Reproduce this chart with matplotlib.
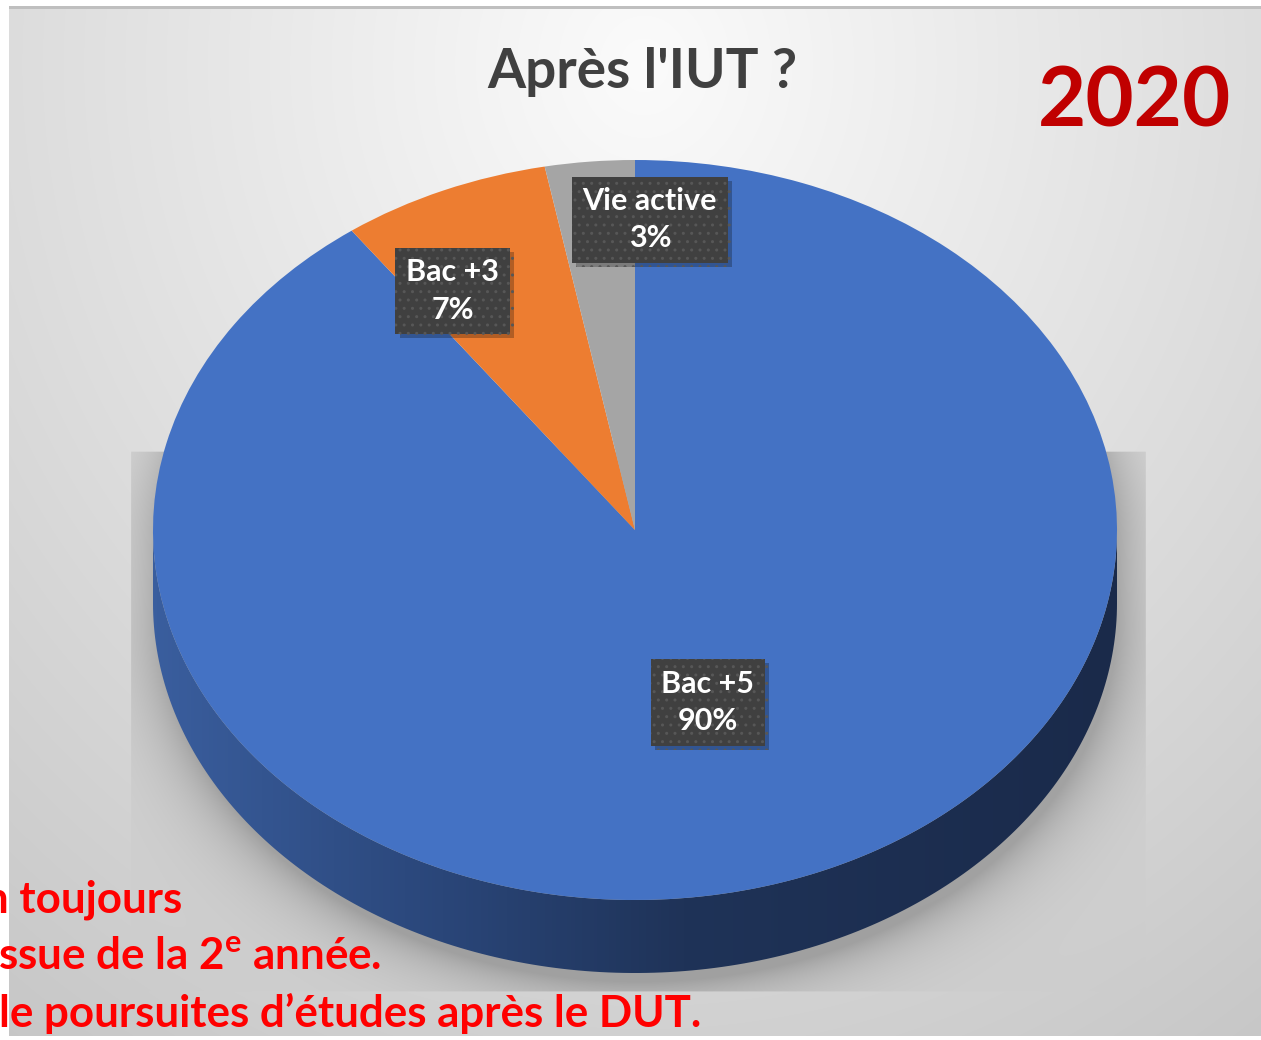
import numpy as np
import matplotlib
matplotlib.use('Agg')
import matplotlib.pyplot as plt
import matplotlib.patheffects as pe
from matplotlib.colors import LinearSegmentedColormap
from matplotlib.patches import Polygon, Rectangle

# data
categories = ['Bac +5', 'Bac +3', 'Vie active']
shares = [90, 7, 3]
slice_colors = ['#4472c4', '#ed7d31', '#a5a5a5']
title = "Après l'IUT ?"
year_label = '2020'
note_lines = ['n toujours', 'ssue de la 2$^{\\mathrm{e}}$ année.', 'le poursuites d’études après le DUT.']

plt.rcParams['font.family'] = ['Lato', 'DejaVu Sans']
plt.rcParams['mathtext.fontset'] = 'custom'
plt.rcParams['mathtext.rm'] = 'Lato:bold'

W, H = 1261, 1040
fig = plt.figure(figsize=(W / 100, H / 100), dpi=100)
fig.patch.set_facecolor('white')

# pie geometry in pixels
cx, cy, rx, ry, depth = 635, 530, 482, 370, 73

# background with soft shadow under the pie
bg = fig.add_axes([0, 0, 1, 1])
bg.set_xlim(0, W)
bg.set_ylim(H, 0)
bg.axis('off')

yy, xx = np.mgrid[0:H, 0:W] + 0.5
r = np.sqrt(((xx - 640) / 900) ** 2 + ((yy - 60) / 1000) ** 2)
val = 0.985 - 0.17 * r
yc = np.clip(yy, cy + 12, cy + depth + 12)
rn = np.sqrt(((xx - cx) / rx) ** 2 + ((yy - yc) / ry) ** 2)
d = np.clip((rn - 1) * 420, 0, None)
in_rect = (xx > 123) & (xx < 1145) & (yy > 450) & (yy < 995)
val = np.where(in_rect, val - 0.2 * np.exp(-d / 32), val)
val = np.clip(val, 0, 1)
img = np.dstack([val, val, val])
bg.imshow(img, extent=(9, W, H - 4, 6), aspect='auto', zorder=0, interpolation='bilinear')
bg.add_patch(Rectangle((9, 6), W - 9, 3, facecolor='#bfbfbf', edgecolor='none', zorder=1))

# pie axes: ellipse top face plus the side wall
pax = fig.add_axes([153 / W, 1 - (cy + ry + depth) / H, 2 * rx / W, (2 * ry + depth) / H])
depth_u = depth / ry
wedges, _ = pax.pie(shares, colors=slice_colors, startangle=90, counterclock=False,
                    radius=1, wedgeprops=dict(linewidth=0, zorder=2))
pax.set_aspect('auto')
pax.set_xlim(-1, 1)
pax.set_ylim(-1 - depth_u, 1)
pax.axis('off')

t = np.linspace(np.pi, 2 * np.pi, 200)
wall_xy = np.concatenate([np.column_stack([np.cos(t), np.sin(t)]),
                          np.column_stack([np.cos(t[::-1]), np.sin(t[::-1]) - depth_u])])
wall = Polygon(wall_xy, closed=True, facecolor='none', edgecolor='none')
pax.add_patch(wall)
wall_cmap = LinearSegmentedColormap.from_list(
    'wall', [(0, '#3a5e9e'), (0.3, '#2a4679'), (0.55, '#1f3358'), (1, '#1a2a4a')])
grad = np.linspace(0, 1, 256)[None, :]
im = pax.imshow(grad, extent=(-1, 1, -1 - depth_u, 0), cmap=wall_cmap, aspect='auto', zorder=1)
im.set_clip_path(wall)

# data labels
label_r = [0.49, 0.704, 0.842]
label_dx = [0.0, -0.099, 0.11]
for w, name, pct, lr, dx in zip(wedges, categories, shares, label_r, label_dx):
    mid = np.deg2rad((w.theta1 + w.theta2) / 2)
    x = lr * np.cos(mid) + dx
    y = lr * np.sin(mid)
    txt = pax.text(x, y, f'{name}\n{pct}%', ha='center', va='center', fontsize=22,
                   fontweight='bold', color='white', linespacing=1.4, zorder=4,
                   bbox=dict(boxstyle='square,pad=0.35', facecolor='#404040',
                             edgecolor='#575757', linewidth=0, hatch='..'))
    txt.get_bbox_patch().set_path_effects(
        [pe.SimplePatchShadow(offset=(3, -3), shadow_rgbFace='black', alpha=0.25), pe.Normal()])

# title and year
bg.text(642, 72, title, ha='center', va='center', fontsize=39.5, fontweight='bold',
        color='#404040', zorder=5)
bg.text(1231, 103, year_label, ha='right', va='center', fontsize=60, fontweight='bold',
        color='#c00000', zorder=5)

# notes in red, cut on the left
note_right = [182, 381, 701]
note_base = [912, 969, 1027]
for line, xr, yb in zip(note_lines, note_right, note_base):
    bg.text(xr, yb, line, ha='right', va='baseline', fontsize=31.6, fontweight='bold',
            color='#ff0000', zorder=6)

fig.savefig('out.png', dpi=100)
